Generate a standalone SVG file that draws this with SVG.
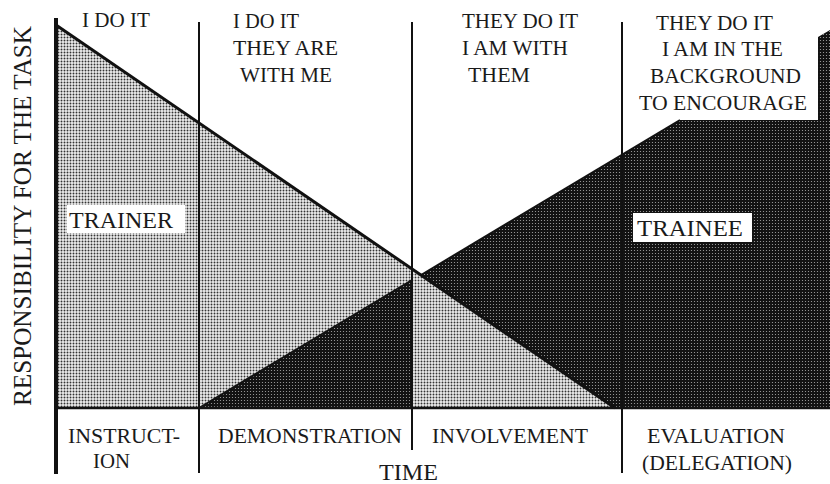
<svg xmlns="http://www.w3.org/2000/svg" width="830" height="484" viewBox="0 0 830 484">
<defs>
<pattern id="lightDots" width="3" height="3" patternUnits="userSpaceOnUse">
<rect width="3" height="3" fill="#eeeeee"/>
<circle cx="1.5" cy="1.5" r="0.95" fill="#333333"/>
</pattern>
<pattern id="darkDots" width="3" height="3" patternUnits="userSpaceOnUse">
<rect width="3" height="3" fill="#121212"/>
<circle cx="1.5" cy="1.5" r="0.6" fill="#a8a8a8"/>
</pattern>
<style>
.ln{stroke:#111;fill:none;}
.serif{font-family:"Times New Roman","Liberation Serif",serif;fill:#1a1a1a;}
</style>
</defs>
<rect width="830" height="484" fill="#ffffff"/>

<g id="trainer-area">
<polygon points="56,25 412,269 412,280 199,408 56,408" fill="url(#lightDots)"/>
<polygon points="412,269 615,408 412,408" fill="url(#lightDots)"/>
</g>
<g id="trainee-area">
<polygon points="199,408 412,280 412,408" fill="url(#darkDots)"/>
<polygon points="421,275 680,120 818,120 818,37 830,30 830,408 615,408" fill="url(#darkDots)"/>
</g>

<g id="connectors">
<line class="ln" x1="56" y1="18" x2="56" y2="474" stroke-width="4"/>
<line class="ln" x1="56" y1="408" x2="830" y2="408" stroke-width="2.5"/>
<line class="ln" x1="199" y1="22" x2="199" y2="473" stroke-width="2"/>
<line class="ln" x1="412" y1="22" x2="412" y2="450" stroke-width="2"/>
<line class="ln" x1="622" y1="22" x2="622" y2="473" stroke-width="2"/>
<line class="ln" x1="56" y1="25" x2="615" y2="408" stroke-width="3"/>
<line class="ln" x1="199" y1="408" x2="412" y2="280" stroke-width="2"/>
<line class="ln" x1="421" y1="275" x2="680" y2="120" stroke-width="2"/>
</g>

<g id="label-trainer">
<rect x="67" y="205" width="118" height="28" fill="#ffffff"/>
<text class="serif" font-size="23.5" x="69" y="228" textLength="104" lengthAdjust="spacingAndGlyphs">TRAINER</text>
</g>
<g id="label-trainee">
<rect x="633" y="213" width="119" height="29" fill="#ffffff"/>
<text class="serif" font-size="23.5" x="637" y="236" textLength="106" lengthAdjust="spacingAndGlyphs">TRAINEE</text>
</g>

<g id="stage1-top" class="serif" font-size="22">
<text x="82" y="27" textLength="68" lengthAdjust="spacingAndGlyphs">I DO IT</text>
</g>
<g id="stage2-top" class="serif" font-size="22">
<text x="233" y="28" textLength="66" lengthAdjust="spacingAndGlyphs">I DO IT</text>
<text x="233" y="55" textLength="105" lengthAdjust="spacingAndGlyphs">THEY ARE</text>
<text x="240" y="82" textLength="92" lengthAdjust="spacingAndGlyphs">WITH ME</text>
</g>
<g id="stage3-top" class="serif" font-size="22">
<text x="462" y="28" textLength="116" lengthAdjust="spacingAndGlyphs">THEY DO IT</text>
<text x="462" y="55" textLength="106" lengthAdjust="spacingAndGlyphs">I AM WITH</text>
<text x="468" y="82" textLength="62" lengthAdjust="spacingAndGlyphs">THEM</text>
</g>
<g id="stage4-top" class="serif" font-size="22">
<text x="656" y="30" textLength="117" lengthAdjust="spacingAndGlyphs">THEY DO IT</text>
<text x="662" y="56" textLength="121" lengthAdjust="spacingAndGlyphs">I AM IN THE</text>
<text x="650" y="83" textLength="151" lengthAdjust="spacingAndGlyphs">BACKGROUND</text>
<text x="639" y="110" textLength="168" lengthAdjust="spacingAndGlyphs">TO ENCOURAGE</text>
</g>

<g id="stage1-bottom" class="serif" font-size="21.5">
<text x="68" y="443" textLength="112" lengthAdjust="spacingAndGlyphs">INSTRUCT-</text>
<text x="93" y="468" textLength="37" lengthAdjust="spacingAndGlyphs">ION</text>
</g>
<g id="stage2-bottom" class="serif" font-size="21.5">
<text x="218" y="443" textLength="184" lengthAdjust="spacingAndGlyphs">DEMONSTRATION</text>
</g>
<g id="stage3-bottom" class="serif" font-size="21.5">
<text x="432" y="443" textLength="156" lengthAdjust="spacingAndGlyphs">INVOLVEMENT</text>
</g>
<g id="stage4-bottom" class="serif" font-size="21.5">
<text x="647" y="443" textLength="138" lengthAdjust="spacingAndGlyphs">EVALUATION</text>
<text x="642" y="470" textLength="150" lengthAdjust="spacingAndGlyphs">(DELEGATION)</text>
</g>

<g id="axis-x-title" class="serif">
<text font-size="23" x="379" y="480" textLength="59" lengthAdjust="spacingAndGlyphs">TIME</text>
</g>
<g id="axis-y-title" class="serif">
<text font-size="24.5" transform="translate(31,406) rotate(-90)" textLength="380" lengthAdjust="spacingAndGlyphs">RESPONSIBILITY FOR THE TASK</text>
</g>
</svg>
